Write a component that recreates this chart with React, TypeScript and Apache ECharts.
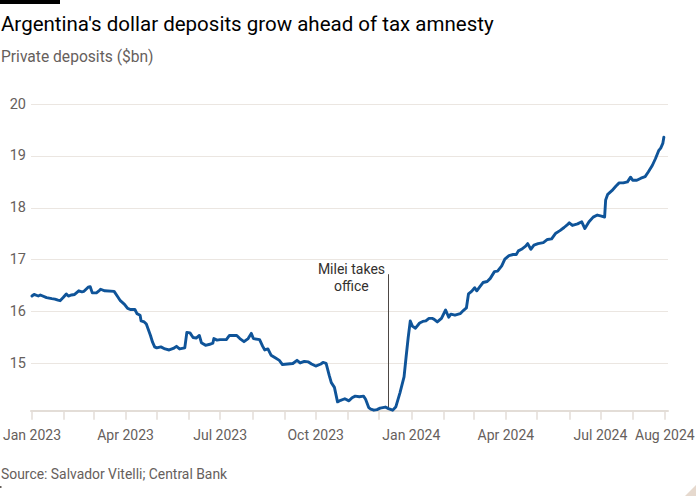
import { useEffect, useRef } from 'react';
import * as echarts from 'echarts';

// Days since 1 Jan 2023
const days = [
  0, 2, 6, 8, 14, 19, 22, 25, 27, 30, 33, 35, 38, 41, 45, 48, 50, 54, 56, 58, 62, 65, 66, 70, 79,
  82, 85, 89, 92, 95, 99, 101, 104, 105, 108, 110, 112, 114, 116, 118, 120, 124, 128, 132, 136, 139,
  142, 147, 149, 152, 155, 158, 161, 163, 167, 171, 174, 175, 178, 181, 187, 190, 197, 200, 204, 208,
  211, 213, 219, 222, 224, 227, 230, 234, 238, 241, 246, 251, 255, 258, 262, 266, 269, 273, 278, 280,
  283, 286, 288, 291, 294, 297, 301, 305, 308, 311, 315, 319, 321, 324, 326, 329, 332, 335, 340, 343,
  347, 350, 354, 358, 360, 362, 364, 366, 369, 373, 376, 379, 382, 385, 387, 390, 394, 398, 401, 403,
  407, 412, 415, 418, 420, 423, 426, 428, 431, 434, 438, 441, 445, 448, 452, 455, 459, 463, 466, 468,
  471, 475, 477, 480, 483, 487, 492, 496, 500, 504, 508, 512, 515, 517, 520, 525, 529, 532, 536, 540,
  544, 548, 551, 552, 554, 558, 562, 565, 569, 573, 576, 578, 582, 586, 590, 593, 597, 600, 603, 605,
  607, 608,
];

// Private dollar deposits ($bn)
const deposits = [
  16.3, 16.33, 16.3, 16.32, 16.27, 16.25, 16.24, 16.22, 16.21, 16.27, 16.34, 16.3, 16.32, 16.33, 16.4,
  16.38, 16.39, 16.47, 16.48, 16.36, 16.36, 16.41, 16.43, 16.4, 16.39, 16.3, 16.21, 16.14, 16.06,
  16.04, 16.04, 15.96, 15.93, 15.82, 15.8, 15.76, 15.65, 15.54, 15.41, 15.32, 15.3, 15.32, 15.28,
  15.26, 15.29, 15.33, 15.28, 15.3, 15.6, 15.59, 15.5, 15.49, 15.54, 15.4, 15.35, 15.37, 15.39, 15.48,
  15.45, 15.46, 15.46, 15.54, 15.54, 15.48, 15.42, 15.48, 15.58, 15.48, 15.46, 15.33, 15.26, 15.28,
  15.16, 15.11, 15.06, 14.98, 14.99, 15.0, 15.06, 15.01, 15.04, 15.03, 14.99, 14.95, 14.99, 15.02,
  15.0, 14.77, 14.63, 14.54, 14.26, 14.29, 14.32, 14.28, 14.34, 14.37, 14.36, 14.37, 14.31, 14.15,
  14.12, 14.1, 14.11, 14.14, 14.16, 14.13, 14.1, 14.16, 14.43, 14.74, 15.13, 15.5, 15.82, 15.72,
  15.68, 15.78, 15.81, 15.82, 15.87, 15.87, 15.85, 15.8, 15.87, 16.03, 15.89, 15.95, 15.93, 15.96,
  16.02, 16.07, 16.34, 16.39, 16.46, 16.4, 16.48, 16.56, 16.58, 16.64, 16.77, 16.78, 16.88, 17.01,
  17.08, 17.1, 17.1, 17.17, 17.2, 17.26, 17.31, 17.2, 17.28, 17.31, 17.33, 17.39, 17.4, 17.51, 17.56,
  17.62, 17.67, 17.71, 17.66, 17.69, 17.73, 17.6, 17.73, 17.82, 17.86, 17.84, 17.82, 18.15, 18.26,
  18.33, 18.42, 18.48, 18.48, 18.5, 18.59, 18.53, 18.53, 18.57, 18.6, 18.69, 18.82, 18.95, 19.1,
  19.15, 19.24, 19.36,
];

const monthTickDays = [0, 31, 59, 90, 120, 151, 181, 212, 243, 273, 304, 334, 365, 396, 425, 456, 486, 517, 547, 578, 609];
const labelDays = [0, 90, 181, 273, 365, 456, 547, 609];
const labelTexts = ['Jan 2023', 'Apr 2023', 'Jul 2023', 'Oct 2023', 'Jan 2024', 'Apr 2024', 'Jul 2024', 'Aug 2024'];
const yTicks = [15, 16, 17, 18, 19, 20];

const mileiDay = 343;
const mileiText = 'Milei takes\noffice';

const FONT = 'Roboto, "Noto Sans", sans-serif';
const GREY = '#66605c';

export default function App() {
  const ref = useRef<HTMLDivElement>(null);
  useEffect(() => {
    document.body.style.margin = '0';
    const chart = echarts.init(ref.current!, null, { renderer: 'svg' });
    const data = days.map((d, i) => [d, deposits[i]]);
    chart.setOption({
      animation: false,
      backgroundColor: '#ffffff',
      textStyle: { fontFamily: FONT },
      grid: { left: 26.25, right: 32, top: 104, bottom: 89.3, containLabel: false },
      xAxis: {
        type: 'value',
        min: -1,
        max: 612,
        axisLine: { show: true, lineStyle: { color: '#e3ddd7', width: 2 } },
        axisTick: { show: true, length: 9, customValues: monthTickDays, lineStyle: { color: '#e3ddd7', width: 1.5 } },
        axisLabel: {
          customValues: labelDays,
          formatter: (v: number) => labelTexts[labelDays.indexOf(Math.round(v))] ?? '',
          color: GREY,
          fontSize: 14,
          fontFamily: FONT,
          margin: 17,
          hideOverlap: false,
        },
        splitLine: { show: false },
      },
      yAxis: {
        type: 'value',
        min: 14.09,
        max: 20,
        axisLine: { show: false },
        axisTick: { show: false, customValues: yTicks },
        axisLabel: { customValues: yTicks, color: GREY, fontSize: 14.5, fontFamily: FONT, margin: 5 },
        splitLine: { show: true, lineStyle: { color: '#ebe6e1', width: 1 } },
      },
      graphic: [
        { type: 'rect', shape: { x: 0, y: 0, width: 60, height: 4 }, style: { fill: '#000' } },
        {
          type: 'text', x: 1, y: 24,
          style: { text: "Argentina's dollar deposits grow ahead of tax amnesty", fontSize: 20.5, fontFamily: FONT, fill: '#000', verticalAlign: 'middle' },
        },
        {
          type: 'text', x: 1, y: 57,
          style: { text: 'Private deposits ($bn)', fontSize: 15.6, fontFamily: FONT, fill: GREY, verticalAlign: 'middle' },
        },
        {
          type: 'text', x: 1, y: 474,
          style: { text: 'Source: Salvador Vitelli; Central Bank', fontSize: 13.9, fontFamily: FONT, fill: GREY, verticalAlign: 'middle' },
        },
        { type: 'rect', shape: { x: 0, y: 486, width: 1.5, height: 2 }, style: { fill: GREY } },
        { type: 'polygon', shape: { points: [[685, 496], [696, 485], [696, 496]] }, style: { fill: '#e6d9ce' } },
      ],
      series: [
        {
          type: 'line',
          data,
          showSymbol: false,
          smooth: false,
          lineStyle: { color: '#0f5499', width: 2.9, join: 'round', cap: 'round' },
          z: 5,
          markLine: {
            silent: true,
            symbol: 'none',
            label: { show: false },
            lineStyle: { color: '#4d4845', width: 1, type: 'solid' },
            data: [[{ coord: [mileiDay, 14.13] }, { coord: [mileiDay, 16.72] }]],
          },
          markPoint: {
            silent: true,
            symbol: 'circle',
            symbolSize: 0,
            data: [
              {
                coord: [mileiDay, 16.72],
                label: {
                  show: true,
                  formatter: mileiText,
                  position: [-37, 3],
                  align: 'center',
                  verticalAlign: 'middle',
                  fontSize: 14,
                  lineHeight: 17,
                  color: '#33302e',
                  fontFamily: FONT,
                },
              },
            ],
          },
        },
      ],
    });
    return () => chart.dispose();
  }, []);
  return <div ref={ref} style={{ position: 'absolute', left: 0, top: 0, width: 700, height: 500 }} />;
}
